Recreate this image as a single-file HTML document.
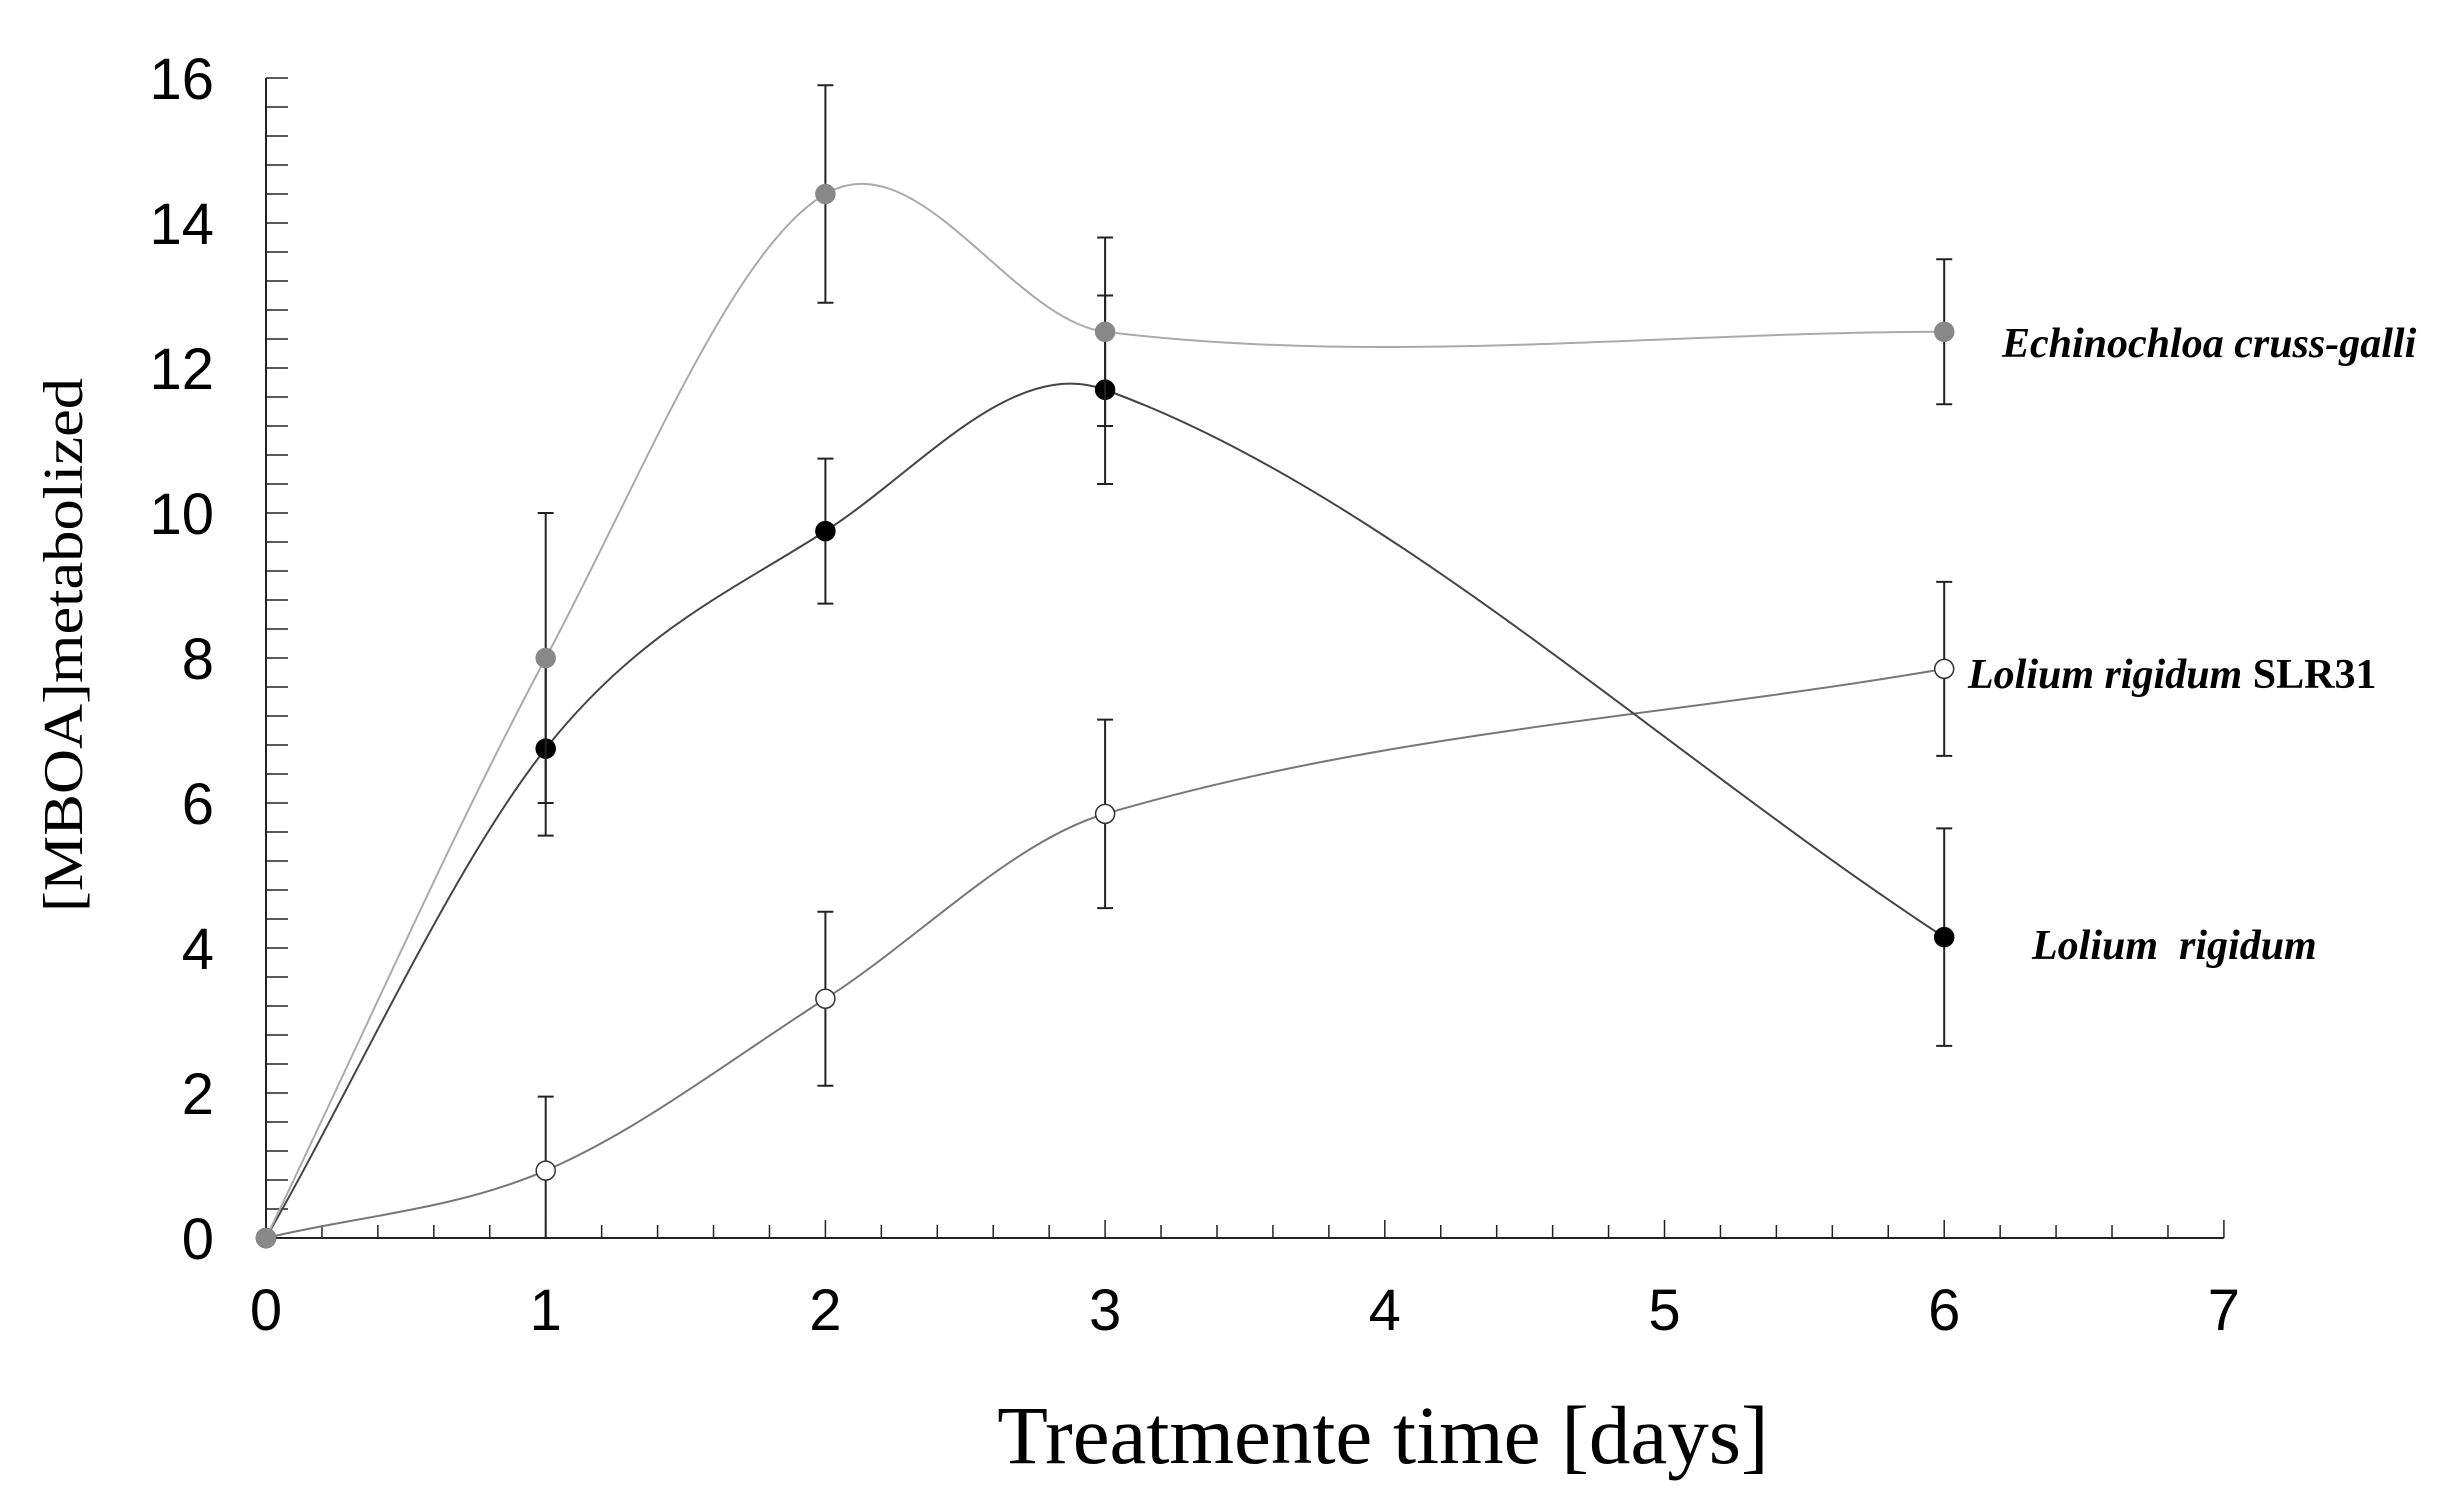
<!DOCTYPE html>
<html><head><meta charset="utf-8"><style>
html,body{margin:0;padding:0;background:#fff;}
svg{display:block;}
</style></head><body>
<svg id="chart" width="2451" height="1507" viewBox="0 0 2451 1507" xmlns="http://www.w3.org/2000/svg">
<g id="axes"></g>
<g id="series"></g>
<text transform="translate(82,645) rotate(-90)" text-anchor="middle" font-family="Liberation Serif, serif" font-size="56" textLength="534" lengthAdjust="spacingAndGlyphs" fill="#000">[MBOA]metabolized</text>
<text x="1383" y="1463" text-anchor="middle" font-family="Liberation Serif, serif" font-size="83" fill="#000">Treatmente time [days]</text>
<text x="2002" y="357" font-family="Liberation Serif, serif" font-size="42" font-weight="bold" font-style="italic" fill="#000">Echinochloa cruss-galli</text>
<text x="1968" y="688" font-family="Liberation Serif, serif" font-size="42" font-weight="bold" fill="#000"><tspan font-style="italic">Lolium rigidum</tspan> SLR31</text>
<text x="2032" y="959" font-family="Liberation Serif, serif" font-size="42" font-weight="bold" font-style="italic" fill="#000" xml:space="preserve">Lolium  rigidum</text>
</svg>
<script>
const days = [0, 1, 2, 3, 6];
const echinoValues = [0, 8, 14.4, 12.5, 12.5];
const echinoErrors = [0, 2, 1.5, 1.3, 1.0];
const loliumValues = [0, 6.75, 9.75, 11.7, 4.15];
const loliumErrors = [0, 1.2, 1.0, 1.3, 1.5];
const slrValues = [0, 0.93, 3.3, 5.85, 7.85];
const slrErrors = [0, 1.02, 1.2, 1.3, 1.2];
const xTicks = [0, 1, 2, 3, 4, 5, 6, 7];
const yTicks = [0, 2, 4, 6, 8, 10, 12, 14, 16];

const NS = 'http://www.w3.org/2000/svg';
const X0 = 266, XS = 279.7, Y0 = 1238, YS = 72.5;
const sx = v => X0 + v * XS;
const sy = v => Y0 - v * YS;
function mk(tag, attrs, parent) {
  const e = document.createElementNS(NS, tag);
  for (const k in attrs) e.setAttribute(k, attrs[k]);
  parent.appendChild(e);
  return e;
}
const axes = document.getElementById('axes');
const series = document.getElementById('series');

let e = mk('line', {x1: sx(0), y1: sy(0), x2: sx(7), y2: sy(0), stroke: '#222', 'stroke-width': 2}, axes);


e = mk('line', {x1: sx(0), y1: sy(0), x2: sx(0), y2: sy(16), stroke: '#222', 'stroke-width': 2}, axes);



for (let i = 0; i <= 35; i++) {
  const v = i * 0.2, major = i % 5 === 0;
  const t = mk('line', {x1: sx(v), x2: sx(v), y1: sy(0), y2: sy(0) - (major ? 18 : 13), stroke: '#222', 'stroke-width': 1.5}, axes);
  
  
}
for (let i = 0; i <= 40; i++) {
  const v = i * 0.4;
  const t = mk('line', {x1: sx(0), x2: sx(0) + 22, y1: sy(v), y2: sy(v), stroke: '#222', 'stroke-width': 1.5}, axes);
  
  
}
xTicks.forEach(v => {
  const t = mk('text', {x: sx(v), y: 1330, 'text-anchor': 'middle', 'font-family': 'Liberation Sans, sans-serif', 'font-size': 58, fill: '#000'}, axes);
  t.textContent = v;
  
  
});
yTicks.forEach(v => {
  const t = mk('text', {x: 214, y: sy(v) + 21, 'text-anchor': 'end', 'font-family': 'Liberation Sans, sans-serif', 'font-size': 58, fill: '#000'}, axes);
  t.textContent = v;
  
  
});

function curvePath(vals) {
  const p = days.map((d, i) => [sx(d), sy(vals[i])]);
  let s = 'M' + p[0][0] + ',' + p[0][1];
  for (let i = 0; i < p.length - 1; i++) {
    const a = p[Math.max(0, i - 1)], b = p[i], c = p[i + 1], d = p[Math.min(p.length - 1, i + 2)];
    const h = c[0] - b[0];
    const m1 = (c[1] - a[1]) / (c[0] - a[0] || 1);
    const m2 = (d[1] - b[1]) / (d[0] - b[0] || 1);
    s += ' C' + (b[0] + h / 3) + ',' + (b[1] + m1 * h / 3) + ' ' + (c[0] - h / 3) + ',' + (c[1] - m2 * h / 3) + ' ' + c[0] + ',' + c[1];
  }
  return s;
}

function drawSeries(name, vals, errs, lineColor, fill, stroke) {
  const g = mk('g', {}, series);
  
  
  const pth = mk('path', {d: curvePath(vals), fill: 'none', stroke: lineColor, 'stroke-width': 2}, g);
  
  
  days.forEach((d, i) => {
    if (errs[i] > 0) {
      const x = sx(d), yt = sy(vals[i] + errs[i]), yb = sy(Math.max(0, vals[i] - errs[i]));
      const eb = mk('path', {d: `M${x},${yt}V${yb}M${x-8},${yt}H${x+8}M${x-8},${yb}H${x+8}`, stroke: '#222', 'stroke-width': 2, fill: 'none'}, g);
      
      
    }
    const c = mk('circle', {cx: sx(d), cy: sy(vals[i]), r: 9.5, fill: fill, stroke: stroke, 'stroke-width': 1.5}, g);
    
    
  });
}
drawSeries('slr31', slrValues, slrErrors, '#777', '#fff', '#333');
drawSeries('lolium', loliumValues, loliumErrors, '#444', '#000', '#000');
drawSeries('echinochloa', echinoValues, echinoErrors, '#aaa', '#888', '#888');
</script>
</body></html>
